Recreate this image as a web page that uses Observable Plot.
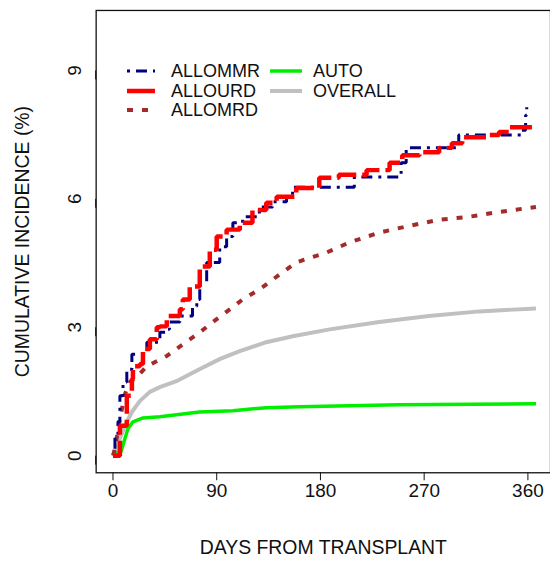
<!DOCTYPE html>
<html><head><meta charset="utf-8">
<script src="https://cdn.jsdelivr.net/npm/d3@7"></script>
<script src="https://cdn.jsdelivr.net/npm/@observablehq/plot@0.6"></script>
<style>
body{margin:0;background:#fff}
#wrap{position:relative;width:550px;height:565px;overflow:hidden;font-family:"Liberation Sans",Arial,sans-serif;background:#fff}
.lg{position:absolute;font-size:18px;color:#111;white-space:nowrap;line-height:1}
</style>
</head><body><div id="wrap"></div>
<script>
// ---- data ----
const xTicks = [0, 90, 180, 270, 360];
const yTicks = [0, 3, 6, 9];
const seriesNames = ["ALLOMMR", "ALLOURD", "ALLOMRD", "AUTO", "OVERALL"];

const allommrDays = [0, 1.7, 4.3, 6, 8.7, 12, 16.4, 29.4, 40.7, 46.7, 49, 58, 69, 72.7, 75.3, 81.3, 92.6, 98.6, 104, 112.5, 127, 138.5, 150.6, 155.8, 209.4, 250, 254.4, 300, 354.8, 358, 359];
const allommrInc  = [0, 0.47, 0.79, 1.40, 1.72, 2.02, 2.37, 2.65, 2.88, 2.95, 3.12, 3.26, 3.49, 3.65, 4.05, 4.51, 4.88, 5.12, 5.44, 5.58, 5.81, 5.93, 6.05, 6.27, 6.51, 6.84, 7.19, 7.49, 7.60, 7.95, 8.14];

const allourdDays = [0, 1.7, 6, 12, 16.4, 17.3, 23.4, 26, 32, 38, 40.7, 46.7, 58, 60.6, 66.6, 75.3, 84, 90, 98.6, 110, 121, 133, 142, 159, 179, 196, 220, 240, 251, 266, 283, 294, 303, 324, 335, 343.5, 367];
const allourdInc  = [0, 0, 0.70, 1.40, 1.79, 2.09, 2.14, 2.49, 2.72, 3.00, 3.02, 3.26, 3.42, 3.65, 3.95, 4.42, 4.81, 5.12, 5.28, 5.44, 5.74, 5.91, 6.05, 6.25, 6.49, 6.56, 6.67, 6.84, 7.02, 7.09, 7.19, 7.30, 7.44, 7.49, 7.56, 7.67, 7.67];

const allomrdDays = [0, 1.7, 6, 10.4, 14.7, 20.8, 29.4, 46.7, 60.6, 75.3, 90, 104, 112.5, 127, 144.5, 159, 166, 185, 205, 231, 254, 283, 309, 329, 367];
const allomrdInc  = [0, 0.16, 0.86, 1.44, 1.72, 1.84, 2.09, 2.33, 2.60, 2.88, 3.19, 3.47, 3.65, 3.88, 4.23, 4.51, 4.58, 4.74, 4.98, 5.21, 5.35, 5.51, 5.58, 5.67, 5.81];

const autoDays = [0, 2, 7, 10.4, 13, 17.3, 26, 40.7, 75, 104, 133, 162, 248, 367];
const autoInc  = [0, 0.04, 0.09, 0.40, 0.63, 0.79, 0.88, 0.91, 1.02, 1.05, 1.12, 1.14, 1.19, 1.21];

const overallDays = [0, 2, 6, 10.4, 16.4, 23.4, 32, 40.7, 55, 75, 93, 110, 133, 156, 188, 231, 274, 318, 367];
const overallInc  = [0, 0.05, 0.40, 0.70, 1.02, 1.28, 1.49, 1.60, 1.74, 2.02, 2.26, 2.44, 2.65, 2.79, 2.95, 3.12, 3.26, 3.37, 3.44];

// ---- styles ----
const styles = {
  ALLOMMR: {stroke: "#000080", strokeWidth: 3, dash: "3,6,11,6", curve: "step-after"},
  ALLOURD: {stroke: "#FF0000", strokeWidth: 4.5, dash: "22,6", curve: "step-after"},
  ALLOMRD: {stroke: "#A52A2A", strokeWidth: 4, dash: "6,9", curve: "linear"},
  AUTO:    {stroke: "#00EE00", strokeWidth: 3.5, dash: null, curve: "linear"},
  OVERALL: {stroke: "#C0C0C0", strokeWidth: 4, dash: null, curve: "linear"}
};

const table = [];
const add = (name, days, inc) => days.forEach((d, i) => table.push({series: name, day: d, inc: inc[i]}));
add("ALLOMMR", allommrDays, allommrInc);
add("ALLOURD", allourdDays, allourdInc);
add("ALLOMRD", allomrdDays, allomrdInc);
add("AUTO", autoDays, autoInc);
add("OVERALL", overallDays, overallInc);

const drawOrder = ["OVERALL", "AUTO", "ALLOMRD", "ALLOMMR", "ALLOURD"];
const lineMarks = drawOrder.map(name => {
  const s = styles[name];
  return Plot.line(table.filter(d => d.series === name), {
    x: "day", y: "inc", stroke: s.stroke, strokeWidth: s.strokeWidth,
    strokeDasharray: s.dash || undefined, curve: s.curve,
    strokeLinejoin: "miter", strokeLinecap: "butt"
  });
});

const font = '"Liberation Sans", Arial, sans-serif';
const plot = Plot.plot({
  width: 552, height: 565,
  marginLeft: 96, marginRight: 0, marginTop: 10, marginBottom: 91,
  style: {fontFamily: font, fontSize: "19px", color: "#111", background: "#fff", overflow: "visible"},
  x: {domain: [-14.6, 379.6]},
  y: {domain: [-0.4, 10.4]},
  marks: [
    Plot.axisX({ticks: xTicks, tickSize: 8, tickPadding: 3, fontSize: 19, label: null, tickFormat: d => String(d)}),
    Plot.axisY({ticks: yTicks, tickSize: 9, tickPadding: 12, rotate: -90, textAnchor: "middle", fontSize: 19, label: null, tickFormat: d => String(d)}),
    Plot.text(["DAYS FROM TRANSPLANT"], {frameAnchor: "bottom", textAnchor: "middle", lineAnchor: "middle", dy: 75, fontSize: 19.5, fill: "#111"}),
    Plot.text(["CUMULATIVE INCIDENCE (%)"], {frameAnchor: "left", textAnchor: "middle", lineAnchor: "middle", dx: -74, rotate: -90, fontSize: 19.5, fill: "#111"}),
    ...lineMarks,
    Plot.frame({stroke: "#111", strokeWidth: 1.3})
  ]
});
const wrap = document.getElementById("wrap");
wrap.appendChild(plot);

// ---- legend (HTML overlay) ----
const legendPos = {
  ALLOMMR: {lx: 127, lw: 28, tx: 171, cy: 71},
  ALLOURD: {lx: 127, lw: 28, tx: 171, cy: 91},
  ALLOMRD: {lx: 127, lw: 28, tx: 171, cy: 110},
  AUTO:    {lx: 270, lw: 32, tx: 313, cy: 71},
  OVERALL: {lx: 270, lw: 32, tx: 313, cy: 91}
};
const ns = "http://www.w3.org/2000/svg";
seriesNames.forEach(name => {
  const s = styles[name], p = legendPos[name];
  const svg = document.createElementNS(ns, "svg");
  svg.setAttribute("width", p.lw); svg.setAttribute("height", 10);
  svg.style.position = "absolute"; svg.style.left = p.lx + "px"; svg.style.top = (p.cy - 5) + "px";
  const ln = document.createElementNS(ns, "line");
  ln.setAttribute("x1", 0); ln.setAttribute("x2", p.lw); ln.setAttribute("y1", 5); ln.setAttribute("y2", 5);
  ln.setAttribute("stroke", s.stroke); ln.setAttribute("stroke-width", s.strokeWidth);
  const dash = name === "ALLOURD" ? null : s.dash;
  if (dash) ln.setAttribute("stroke-dasharray", dash);
  svg.appendChild(ln);
  wrap.appendChild(svg);
  const t = document.createElement("div");
  t.className = "lg"; t.textContent = name;
  t.style.left = p.tx + "px"; t.style.top = (p.cy - 9) + "px";
  wrap.appendChild(t);
});
</script>
</body></html>
